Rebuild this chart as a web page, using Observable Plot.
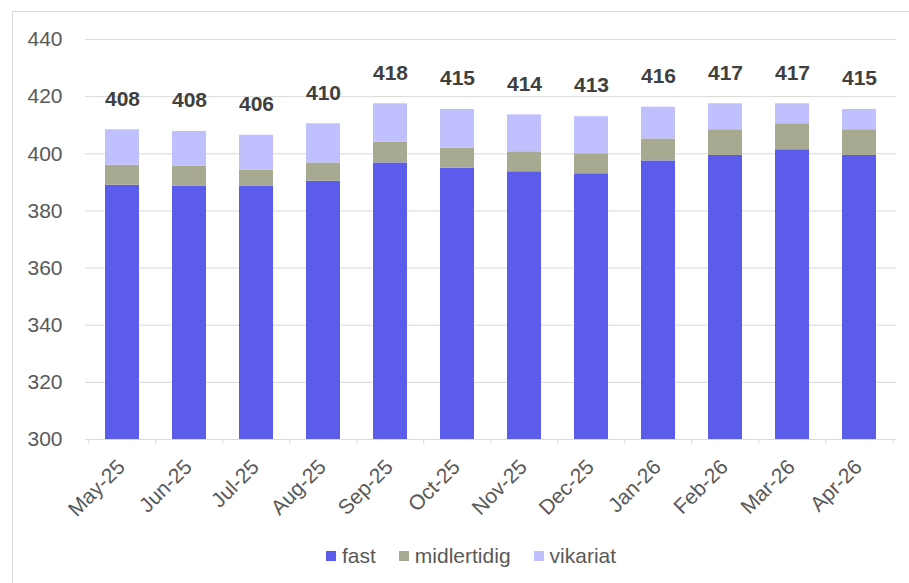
<!DOCTYPE html>
<html><head><meta charset="utf-8">
<script src="https://cdn.jsdelivr.net/npm/d3@7"></script>
<script src="https://cdn.jsdelivr.net/npm/@observablehq/plot@0.6"></script>
<style>
body{margin:0;background:#fff;font-family:"Liberation Sans",Arial,sans-serif;}
#wrap{position:relative;width:909px;height:583px;overflow:hidden;background:#fff;}
#frame{position:absolute;left:12px;top:11px;width:1000px;height:1000px;border:1px solid #d9d9d9;box-sizing:border-box;}
#chart{position:absolute;left:0;top:0;}
#legend{position:absolute;left:326px;top:543px;display:flex;align-items:center;font-size:21px;color:#595959;line-height:25px;}
.item{display:flex;align-items:center;margin-right:23px;}
.sw{width:10px;height:10px;margin-right:6px;}
</style></head><body>
<div id="wrap"><div id="frame"></div><div id="chart"></div><div id="legend"></div></div>
<script>
const months = ["May-25","Jun-25","Jul-25","Aug-25","Sep-25","Oct-25","Nov-25","Dec-25","Jan-26","Feb-26","Mar-26","Apr-26"];
const fast        = [389.0, 388.6, 388.6, 390.4, 396.8, 395.0, 393.7, 393.0, 397.5, 399.4, 401.4, 399.4];
const midlertidig = [7.0, 7.0, 5.7, 6.4, 7.2, 7.0, 7.0, 7.0, 7.7, 9.0, 9.1, 9.0];
const vikariat    = [12.4, 12.2, 12.2, 13.7, 13.5, 13.5, 12.9, 13.0, 11.1, 9.1, 7.0, 7.1];
const totals      = [408, 408, 406, 410, 418, 415, 414, 413, 416, 417, 417, 415];
const seriesNames = ["fast", "midlertidig", "vikariat"];
const seriesColors = ["#5b5bec", "#a7a991", "#c0c0ff"];
const yTicks = [300, 320, 340, 360, 380, 400, 420, 440];

const seriesValues = [fast, midlertidig, vikariat];
const data = months.flatMap((m, i) => seriesNames.map((s, k) => ({month: m, series: s, value: seriesValues[k][i]})));
const tops = months.map((m, i) => ({month: m, top: fast[i] + midlertidig[i] + vikariat[i], label: String(totals[i])}));

const W = 909, ML = 85, MR = 13;
const step = (W - ML - MR) / months.length;

const chart = Plot.plot({
  width: W, height: 520,
  marginLeft: ML, marginRight: MR, marginTop: 39, marginBottom: 81,
  style: {fontFamily: "'Liberation Sans', Arial, sans-serif", fontSize: "21px", color: "#595959", background: "transparent"},
  x: {domain: months, paddingInner: 0.49, paddingOuter: 0.245, label: null},
  y: {domain: [300, 440], label: null},
  color: {domain: seriesNames, range: seriesColors},
  marks: [
    Plot.gridY(yTicks, {stroke: "#d9d9d9", strokeOpacity: 1, strokeWidth: 1}),
    Plot.barY(data, {x: "month", y: "value", fill: "series", order: seriesNames, clip: true}),
    Plot.ruleX(months, {x: d => d, y1: 300, y2: 300, dx: -step / 2, insetBottom: -5, stroke: "#d9d9d9"}),
    Plot.ruleX([months[months.length - 1]], {x: d => d, y1: 300, y2: 300, dx: step / 2, insetBottom: -5, stroke: "#d9d9d9"}),
    Plot.text(tops, {x: "month", y: "top", text: "label", dy: -31, fontWeight: "bold", fill: "#404040", fontSize: 21}),
    Plot.axisY(yTicks, {tickSize: 0, tickPadding: 23, fontSize: 21, fill: "#595959"}),
    Plot.axisX({tickSize: 0, tickRotate: -45, tickPadding: 24, dx: -1, fontSize: 21, fill: "#595959"})
  ]
});
document.getElementById("chart").appendChild(chart);

const legend = document.getElementById("legend");
seriesNames.forEach((s, k) => {
  const item = document.createElement("div");
  item.className = "item";
  const sw = document.createElement("span");
  sw.className = "sw";
  sw.style.background = seriesColors[k];
  const t = document.createElement("span");
  t.textContent = s;
  item.appendChild(sw); item.appendChild(t);
  legend.appendChild(item);
});
</script>
</body></html>
